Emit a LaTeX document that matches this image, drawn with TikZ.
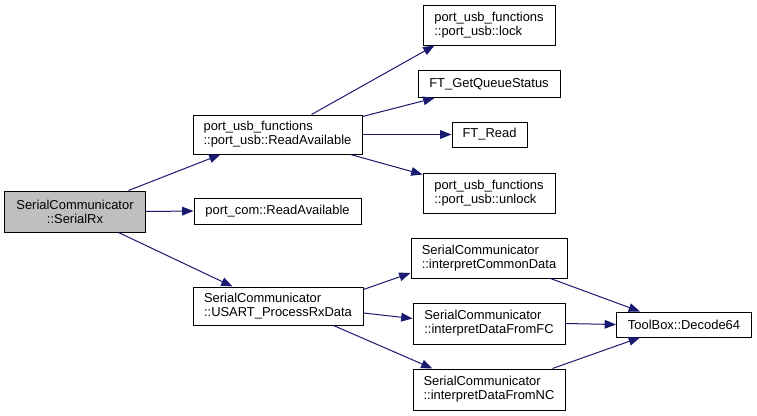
\documentclass[tikz,border=0pt]{standalone}
\usepackage{fontspec}
\setmainfont{Liberation Sans}
\usetikzlibrary{arrows.meta}
\definecolor{edgeblue}{HTML}{191970}
\definecolor{rootgray}{HTML}{BFBFBF}
\tikzset{
  fn/.style={draw=black, line width=0.75pt, fill=white, inner sep=0pt, align=left,
    font=\fontsize{9.7}{10.6}\selectfont},
  call/.style={draw=edgeblue, line width=0.75pt, -{Triangle[length=8.5pt,width=6.5pt]}, shorten >=0pt}
}
\begin{document}
\begin{tikzpicture}[x=0.75pt,y=-0.75pt]
\useasboundingbox (0,0) rectangle (757,415);
\node[fn, fill=rootgray, align=center, minimum width=105.75pt, minimum height=30.75pt] (rx) at (75,211.5) {SerialCommunicator\\::SerialRx};
\node[fn, minimum width=126.75pt, minimum height=29.25pt] (usbra) at (277.5,134.5) {port\_usb\_functions\\::port\_usb::ReadAvailable};
\node[fn, minimum width=125.25pt, minimum height=19.5pt] (com) at (277.5,211) {port\_com::ReadAvailable};
\node[fn, minimum width=127.5pt, minimum height=28.5pt] (usart) at (278,306) {SerialCommunicator\\::USART\_ProcessRxData};
\node[fn, minimum width=99pt, minimum height=30pt] (lock) at (489,25) {port\_usb\_functions\\::port\_usb::lock};
\node[fn, minimum width=106.5pt, minimum height=20.25pt] (gqs) at (489,84) {FT\_GetQueueStatus};
\node[fn, minimum width=56.25pt, minimum height=18.75pt] (ftread) at (489.5,134.5) {FT\_Read};
\node[fn, minimum width=99pt, minimum height=30pt] (unlock) at (489,193) {port\_usb\_functions\\::port\_usb::unlock};
\node[fn, minimum width=117pt, minimum height=30pt] (common) at (489,258) {SerialCommunicator\\::interpretCommonData};
\node[fn, minimum width=114pt, minimum height=30.75pt] (fc) at (489,323.5) {SerialCommunicator\\::interpretDataFromFC};
\node[fn, minimum width=114pt, minimum height=30.75pt] (nc) at (489,389.5) {SerialCommunicator\\::interpretDataFromNC};
\node[fn, minimum width=101.25pt, minimum height=18.75pt] (dec) at (684,324.5) {ToolBox::Decode64};

\draw[call] ([xshift=-13.1pt]rx.north east) -- ([xshift=21pt]usbra.south west);
\draw[call] (rx.east) -- (com.west);
\draw[call] ([xshift=-20.6pt]rx.south east) -- ([xshift=30pt]usart.north west);
\draw[call] ([xshift=89.25pt]usbra.north west) -- ([xshift=9pt]lock.south west);
\draw[call] ([yshift=-1.5pt]usbra.north east) -- ([xshift=12.75pt]gqs.south west);
\draw[call] (usbra.east) -- (ftread.west);
\draw[call] ([xshift=-9pt]usbra.south east) -- ([yshift=-1.5pt]unlock.north west);
\draw[call] ([yshift=-2.25pt]usart.north east) -- ([yshift=-11.25pt]common.west);
\draw[call] ([yshift=-5.25pt]usart.east) -- ([yshift=3.75pt]fc.west);
\draw[call] ([xshift=-22.5pt]usart.south east) -- ([xshift=15pt]nc.north west);
\draw[call] ([xshift=-12.75pt]common.south east) -- ([xshift=18pt]dec.north west);
\draw[call] (fc.east) -- (dec.west);
\draw[call] ([xshift=-9.75pt]nc.north east) -- ([xshift=18pt]dec.south west);
\end{tikzpicture}
\end{document}
